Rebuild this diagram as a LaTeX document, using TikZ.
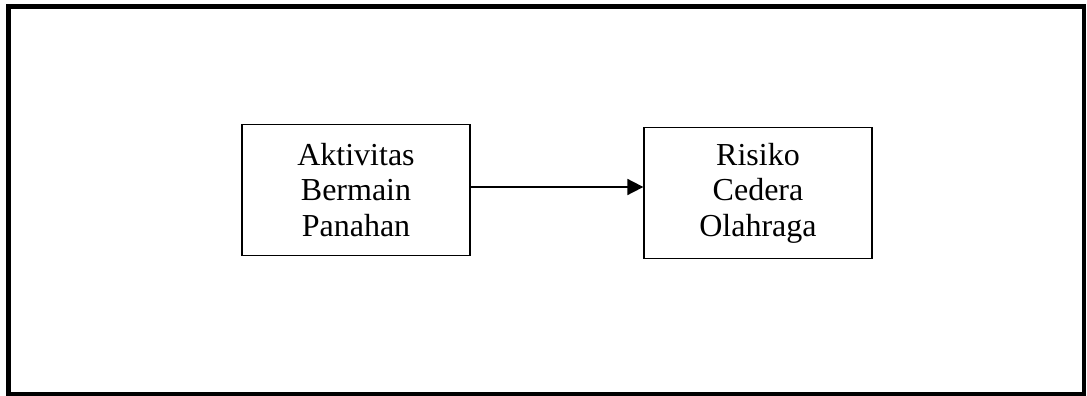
\documentclass[tikz,border=0pt]{standalone}
\usepackage{fontspec}
\setmainfont{Liberation Serif}
\usetikzlibrary{arrows.meta}
\begin{document}
\begin{tikzpicture}[x=1pt,y=-1pt,
  boxnode/.style={draw=black,line width=1.3pt,minimum width=228pt,minimum height=131pt,
    inner sep=0pt,align=center,font=\fontsize{32}{35.5}\selectfont},
  link/.style={line width=1.8pt,-{Triangle[length=16pt,width=16pt]}}]
\useasboundingbox (0,0) rectangle (1087,396);
\draw[line width=4.5pt] (8.5,6.5) rectangle (1084,394.5);
\node[boxnode] (a) at (356,190) {Aktivitas\\Bermain\\Panahan};
\node[boxnode] (b) at (758,193) {Risiko\\Cedera\\Olahraga};
\draw[link] (a.east |- 0,187) -- (b.west |- 0,187);
\end{tikzpicture}
\end{document}
